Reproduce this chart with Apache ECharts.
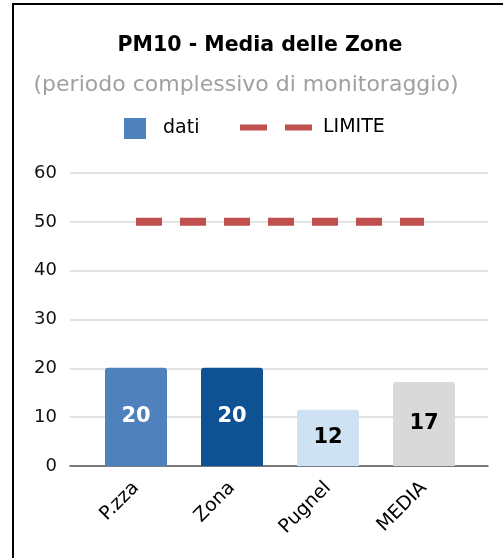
<!DOCTYPE html>
<html>
<head>
<meta charset="utf-8">
<script src="https://cdn.jsdelivr.net/npm/echarts@6/dist/echarts.min.js"></script>
<style>html,body{margin:0;padding:0;background:#fff;}#c{width:503px;height:558px;}</style>
</head>
<body>
<div id="c"></div>
<script>
var categories = ['P.zza', 'Zona', 'Pugnel', 'MEDIA'];
var datiValues = [20.1, 20.1, 11.5, 17.2];
var limiteValues = [50, 50, 50, 50];
var barColors = ['#4F81BD', '#0F5294', '#CFE2F3', '#D9D9D9'];
var labelColors = ['#FFFFFF', '#FFFFFF', '#000000', '#000000'];
var yTicks = {min: 0, max: 60, interval: 10};

var FONT = 'DejaVu Sans';
var chart = echarts.init(document.getElementById('c'));
chart.setOption({
  animation: false,
  backgroundColor: '#fff',
  graphic: [
    {type: 'line', shape: {x1: 13, y1: 4, x2: 503, y2: 4}, style: {stroke: '#000', lineWidth: 2}},
    {type: 'line', shape: {x1: 13, y1: 3, x2: 13, y2: 558}, style: {stroke: '#000', lineWidth: 2}}
  ],
  title: [
    {text: 'PM10 - Media delle Zone', left: 255, top: 30, textAlign: 'center',
     textStyle: {fontFamily: FONT, fontSize: 20.5, fontWeight: 'bold', color: '#000'}},
    {text: '(periodo complessivo di monitoraggio)', left: 241, top: 69, textAlign: 'center',
     textStyle: {fontFamily: FONT, fontSize: 22, fontWeight: 'normal', color: '#A0A0A0'}}
  ],
  legend: [
    {data: ['dati'], left: 119, top: 113, itemWidth: 22, itemHeight: 21, icon: 'rect',
     textStyle: {fontFamily: FONT, fontSize: 19, color: '#000', padding: [0, 0, 0, 12]}},
    {data: [{name: 'LIMITE', icon: 'path://M0,0H27V6H0Z M45,0H72V6H45Z'}],
     left: 235, top: 113, itemWidth: 72, itemHeight: 21,
     itemStyle: {color: '#C0504D'},
     textStyle: {fontFamily: FONT, fontSize: 19, color: '#000', padding: [0, 0, 0, 6]}}
  ],
  grid: [
    {left: 70, right: 15, top: 173, bottom: 92},
    {left: 88, right: 31, top: 173, bottom: 92}
  ],
  xAxis: [
    {type: 'category', gridIndex: 0, data: categories,
     axisLine: {show: true, lineStyle: {color: '#595959', width: 1.5}},
     axisTick: {show: false}, axisLabel: {show: false}, splitLine: {show: false}},
    {type: 'category', gridIndex: 1, data: categories,
     axisLine: {show: false}, axisTick: {show: false},
     axisLabel: {rotate: 45, margin: 19, fontFamily: FONT, fontSize: 19, color: '#000'}}
  ],
  yAxis: [
    {type: 'value', gridIndex: 0, min: yTicks.min, max: yTicks.max, interval: yTicks.interval,
     axisLine: {show: false}, axisTick: {show: false},
     axisLabel: {margin: 13, fontFamily: FONT, fontSize: 18, color: '#111'},
     splitLine: {lineStyle: {color: '#D9D9D9', width: 1.5}}},
    {type: 'value', gridIndex: 1, min: yTicks.min, max: yTicks.max, interval: yTicks.interval,
     show: false, splitLine: {show: false}}
  ],
  series: [
    {name: 'dati', type: 'bar', xAxisIndex: 1, yAxisIndex: 1, barWidth: 62,
     itemStyle: {color: barColors[0]},
     data: datiValues.map(function (v, i) {
       return {value: v, itemStyle: {color: barColors[i], borderRadius: [3, 3, 0, 0]},
               label: {color: labelColors[i]}};
     }),
     label: {show: true, position: 'inside', fontFamily: FONT, fontSize: 21, fontWeight: 'bold',
             formatter: function (p) { return Math.round(p.value); }}},
    {name: 'LIMITE', type: 'line', xAxisIndex: 1, yAxisIndex: 1, data: limiteValues,
     symbol: 'none', itemStyle: {color: '#C0504D'},
     lineStyle: {color: '#C0504D', width: 8, type: [26, 18]}}
  ]
});
</script>
</body>
</html>
